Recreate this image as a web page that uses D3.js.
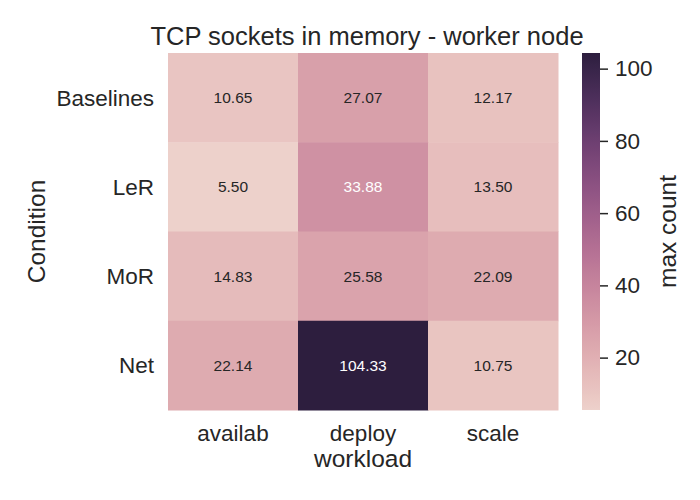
<!DOCTYPE html>
<html>
<head>
<meta charset="utf-8">
<script src="https://cdn.jsdelivr.net/npm/d3@7"></script>
<style>
  body { margin: 0; background: #fff; }
  text { font-family: "Liberation Sans", Arial, sans-serif; fill: #262626; }
</style>
</head>
<body>
<div id="chart"></div>
<script>
const conditions = ['Baselines', 'LeR', 'MoR', 'Net'];
const workloads = ['availab', 'deploy', 'scale'];
// rows follow conditions, columns follow workloads
const maxCount = [
	[10.65, 27.07, 12.17],
	[5.50, 33.88, 13.50],
	[14.83, 25.58, 22.09],
	[22.14, 104.33, 10.75]
];
const cbarTicks = [20, 40, 60, 80, 100];

const W = 700, H = 500;
const box = { left: 168, right: 558, top: 53, bottom: 410 };
const cbar = { left: 582, right: 600 };

// matplotlib cubehelix, seaborn defaults (start 0, rot .4, hue .8, light .85, dark .15)
function cubehelix(x) {
	const s = 0, r = 0.4, h = 0.8, gamma = 1;
	const xg = Math.pow(x, gamma);
	const a = h * xg * (1 - xg) / 2;
	const phi = 2 * Math.PI * (s / 3 + r * x);
	const ch = (p0, p1) => Math.min(1, Math.max(0, xg + a * (p0 * Math.cos(phi) + p1 * Math.sin(phi))));
	return [ch(-0.14861, 1.78277), ch(-0.29227, -0.90649), ch(1.97294, 0)];
}

const flat = maxCount.flat();
const vmin = d3.min(flat), vmax = d3.max(flat);
const norm = d3.scaleLinear().domain([vmin, vmax]).range([0.85, 0.15]).clamp(true);
const rgbOf = v => cubehelix(norm(v));
const colorOf = v => {
	const c = rgbOf(v);
	return d3.rgb(c[0] * 255, c[1] * 255, c[2] * 255).formatHex();
};
function luminance(c) {
	const l = c.map(v => v <= 0.03928 ? v / 12.92 : Math.pow((v + 0.055) / 1.055, 2.4));
	return l[0] * 0.2126 + l[1] * 0.7152 + l[2] * 0.0722;
}

const svg = d3.select('#chart').append('svg')
	.attr('width', W)
	.attr('height', H);

const x = d3.scaleBand().domain(workloads).range([box.left, box.right]);
const y = d3.scaleBand().domain(conditions).range([box.top, box.bottom]);

// cells
const cells = [];
maxCount.forEach((row, i) => row.forEach((v, j) => cells.push({ c: conditions[i], w: workloads[j], v })));

svg.append('g').selectAll('rect')
	.data(cells)
	.enter()
	.append('rect')
	.attr('x', d => x(d.w))
	.attr('y', d => y(d.c))
	.attr('width', x.bandwidth() + 0.5)
	.attr('height', y.bandwidth() + 0.5)
	.attr('fill', d => colorOf(d.v));

svg.append('g').selectAll('text')
	.data(cells)
	.enter()
	.append('text')
	.attr('x', d => x(d.w) + x.bandwidth() / 2)
	.attr('y', d => y(d.c) + y.bandwidth() / 2)
	.attr('dy', '0.35em')
	.attr('text-anchor', 'middle')
	.style('font-size', '15.5px')
	.style('fill', d => luminance(rgbOf(d.v)) > 0.408 ? '#262626' : '#ffffff')
	.text(d => d.v.toFixed(2));

// axes tick labels
svg.append('g').selectAll('text')
	.data(conditions)
	.enter()
	.append('text')
	.attr('x', box.left - 14)
	.attr('y', d => y(d) + y.bandwidth() / 2)
	.attr('dy', '0.35em')
	.attr('text-anchor', 'end')
	.style('font-size', '22.5px')
	.text(d => d);

svg.append('g').selectAll('text')
	.data(workloads)
	.enter()
	.append('text')
	.attr('x', d => x(d) + x.bandwidth() / 2)
	.attr('y', 441)
	.attr('text-anchor', 'middle')
	.style('font-size', '22.5px')
	.text(d => d);

// axis labels and title
svg.append('text')
	.attr('x', (box.left + box.right) / 2)
	.attr('y', 467)
	.attr('text-anchor', 'middle')
	.style('font-size', '24.5px')
	.text('workload');

svg.append('text')
	.attr('transform', `translate(45, ${(box.top + box.bottom) / 2}) rotate(-90)`)
	.attr('text-anchor', 'middle')
	.style('font-size', '24.5px')
	.text('Condition');

svg.append('text')
	.attr('x', (box.left + box.right) / 2 + 4)
	.attr('y', 45)
	.attr('text-anchor', 'middle')
	.style('font-size', '25.5px')
	.text('TCP sockets in memory - worker node');

// colorbar
const cy = d3.scaleLinear().domain([vmin, vmax]).range([box.bottom, box.top]);
const steps = d3.range(64).map(i => vmin + (vmax - vmin) * i / 63);
const grad = svg.append('defs').append('linearGradient')
	.attr('id', 'cbarGrad')
	.attr('x1', 0).attr('y1', 1).attr('x2', 0).attr('y2', 0);
grad.selectAll('stop')
	.data(steps)
	.enter()
	.append('stop')
	.attr('offset', (d, i) => i / (steps.length - 1))
	.attr('stop-color', d => colorOf(d));
svg.append('rect')
	.attr('x', cbar.left)
	.attr('y', cy(vmax))
	.attr('width', cbar.right - cbar.left)
	.attr('height', cy(vmin) - cy(vmax))
	.attr('fill', 'url(#cbarGrad)');

const cAxis = svg.append('g')
	.attr('transform', `translate(${cbar.right},0)`)
	.call(d3.axisRight(cy).tickValues(cbarTicks).tickSize(8).tickPadding(7).tickFormat(d3.format('d')));
cAxis.select('.domain').remove();
cAxis.selectAll('line').attr('stroke', '#262626').attr('stroke-width', 1.5);
cAxis.selectAll('text')
	.style('font-size', '22.5px')
	.style('font-family', '"Liberation Sans", Arial, sans-serif')
	.attr('fill', '#262626');

svg.append('text')
	.attr('transform', `translate(676, ${(box.top + box.bottom) / 2}) rotate(-90)`)
	.attr('text-anchor', 'middle')
	.style('font-size', '24.5px')
	.text('max count');
</script>
</body>
</html>
